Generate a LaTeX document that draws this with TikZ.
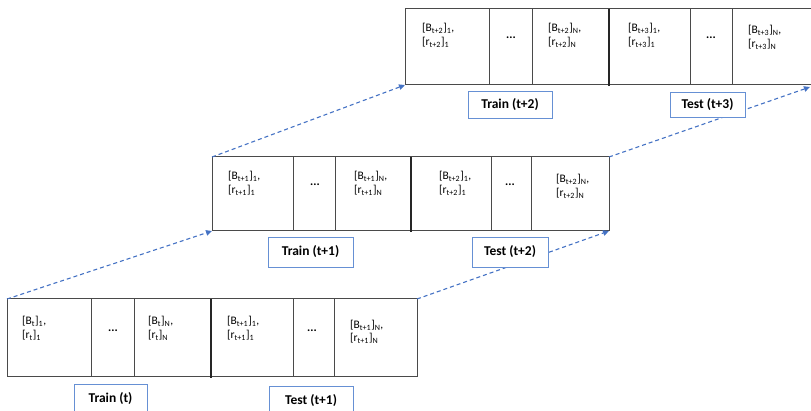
\documentclass[tikz,border=0pt]{standalone}
\usepackage{fontspec}
\setmainfont{Carlito}
\usetikzlibrary{arrows.meta}

\definecolor{framegray}{HTML}{4A4A4A}
\definecolor{flowblue}{HTML}{4472C4}
\definecolor{tagblue}{HTML}{6690D4}

% one cell entry: [B_sub]_idx, / [r_sub]_idx
\newcommand{\pairtxt}[2]{[B\textsubscript{#1}]\textsubscript{#2},\\\relax [r\textsubscript{#1}]\textsubscript{#2}}

\begin{document}
\begin{tikzpicture}[x=1pt,y=-1pt,
  rowbox/.style={draw=framegray,line width=1pt,inner sep=0pt,outer sep=0pt,anchor=north west},
  divider/.style={draw=framegray,line width=1pt},
  split/.style={draw=black!85,line width=1.6pt},
  entry/.style={anchor=west,align=left,inner sep=0pt,font=\fontsize{11.5}{13.5}\selectfont},
  gap/.style={inner sep=0pt,font=\fontsize{12}{12}\selectfont\bfseries},
  flow/.style={draw=flowblue,line width=1.1pt,dash pattern=on 4pt off 3pt,
               -{Triangle[length=6pt,width=5.5pt]}},
  tag/.style={draw=tagblue,line width=0.9pt,fill=white,inner sep=0pt,
              font=\fontsize{13.5}{16}\selectfont\bfseries},
]
\useasboundingbox (0,0) rectangle (811,411);

% ---- window t / t+1 ----
\node[rowbox,minimum width=410pt,minimum height=78pt] (r1) at (7,299) {};
\foreach \x in {91,134,293,334} \draw[divider] (\x,299) -- (\x,377);
\draw[split] (211,299) -- (211,378);
\node[entry] (r1a) at (22,328.5) {\pairtxt{t}{1}};
\node[gap]   (r1b) at (113,331) {...};
\node[entry] (r1c) at (148,328.5) {\pairtxt{t}{N}};
\node[entry] (r1d) at (227,328.5) {\pairtxt{t+1}{1}};
\node[gap]   (r1e) at (312,331) {...};
\node[entry] (r1f) at (350,332) {\pairtxt{t+1}{N}};

% ---- window t+1 / t+2 ----
\node[rowbox,minimum width=397pt,minimum height=74pt] (r2) at (212,157) {};
\foreach \x in {293,335,491,531} \draw[divider] (\x,157) -- (\x,231);
\draw[split] (411,157) -- (411,232);
\node[entry] (r2a) at (228,183.5) {\pairtxt{t+1}{1}};
\node[gap]   (r2b) at (315,185) {...};
\node[entry] (r2c) at (354,183.5) {\pairtxt{t+1}{N}};
\node[entry] (r2d) at (439,183.5) {\pairtxt{t+2}{1}};
\node[gap]   (r2e) at (510,185) {...};
\node[entry] (r2f) at (556,186.5) {\pairtxt{t+2}{N}};

% ---- window t+2 / t+3 (runs past the right edge) ----
\node[rowbox,minimum width=425pt,minimum height=76pt] (r3) at (405,9) {};
\foreach \x in {489,532,690,732} \draw[divider] (\x,9) -- (\x,85);
\draw[split] (609,9) -- (609,86);
\node[entry] (r3a) at (422,35.5) {\pairtxt{t+2}{1}};
\node[gap]   (r3b) at (511,38) {...};
\node[entry] (r3c) at (548,35.5) {\pairtxt{t+2}{N}};
\node[entry] (r3d) at (628,35.5) {\pairtxt{t+3}{1}};
\node[gap]   (r3e) at (711,38) {...};
\node[entry] (r3f) at (748,37.5) {\pairtxt{t+3}{N}};

% ---- sliding of the window ----
\coordinate (r3end) at (810,87);
\draw[flow] (r1.north west) -- (r2.south west);
\draw[flow] (r1.north east) -- (r2.south east);
\draw[flow] (r2.north west) -- (r3.south west);
\draw[flow] (r2.north east) -- (r3end);

% ---- train / test tags ----
\node[tag,minimum width=73pt,minimum height=30pt] (t1) at (110.5,399) {Train (t)};
\node[tag,minimum width=84pt,minimum height=30pt] (s1) at (311,401) {Test (t+1)};
\node[tag,minimum width=85pt,minimum height=30pt] (t2) at (310.5,252) {Train (t+1)};
\node[tag,minimum width=76pt,minimum height=30pt] (s2) at (510,252) {Test (t+2)};
\node[tag,minimum width=84pt,minimum height=27pt] (t3) at (510,104.5) {Train (t+2)};
\node[tag,minimum width=75pt,minimum height=25pt] (s3) at (707.5,104.5) {Test (t+3)};
\end{tikzpicture}
\end{document}
